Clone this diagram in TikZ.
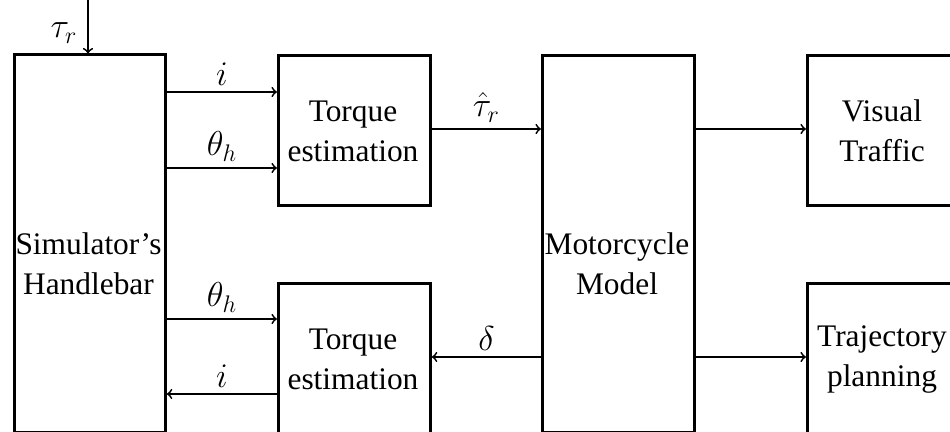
\documentclass[tikz,border=0pt]{standalone}
\usepackage{fontspec}
\setmainfont{Liberation Serif}
\usetikzlibrary{calc}
\begin{document}
\begin{tikzpicture}[x=0.5pt,y=-0.5pt,
  blk/.style={draw, line width=1.4pt, inner sep=0pt, anchor=north west},
  txt/.style={align=center, font=\fontsize{15.7}{20}\selectfont, inner sep=0pt},
  lab/.style={font=\fontsize{17.5}{20}\selectfont, inner sep=0pt},
  arr/.style={->, line width=0.9pt}]
\useasboundingbox (0,0) rectangle (950,432);
% boxes
\node[blk, minimum width=75.5pt, minimum height=189pt] (hb) at (13,53.5) {};
\node[blk, minimum width=76pt, minimum height=75pt] (te1) at (277,54) {};
\node[blk, minimum width=76pt, minimum height=75pt] (te2) at (277,282) {};
\node[blk, minimum width=76pt, minimum height=188.5pt] (mm) at (541,54) {};
\node[blk, minimum width=76pt, minimum height=75pt] (vt) at (806,54) {};
\node[blk, minimum width=76pt, minimum height=75pt] (tp) at (806,282) {};
% texts
\node[txt] (hbt) at (88.5,264) {Simulator's\\Handlebar};
\node[txt] (te1t) at (353,131) {Torque\\estimation};
\node[txt] (te2t) at (353,359) {Torque\\estimation};
\node[txt] (mmt) at (617,264) {Motorcycle\\Model};
\node[txt] (vtt) at (882,131) {Visual\\Traffic};
\node[txt] (tpt) at (882,359) {Trajectory\\planning};
% input torque
\coordinate (tin) at (88,0);
\draw[arr] (tin) -- (hb.north -| tin);
\node[lab] (taur) at (64,33) {$\tau_r$};
% arrows
\draw[arr] (hb.east |- 0,92) -- (te1.west |- 0,92) node[lab, midway, above=3pt] (l1) {$i$};
\draw[arr] (hb.east |- 0,168) -- (te1.west |- 0,168) node[lab, midway, above=3pt] (l2) {$\theta_h$};
\draw[arr] (hb.east |- 0,319) -- (te2.west |- 0,319) node[lab, midway, above=3pt] (l3) {$\theta_h$};
\draw[arr] (te2.west |- 0,394) -- (hb.east |- 0,394) node[lab, midway, above=3pt] (l4) {$i$};
\draw[arr] (te1.east |- 0,129) -- (mm.west |- 0,129) node[lab, midway, above=3pt] (l5) {$\hat{\tau}_r$};
\draw[arr] (mm.west |- 0,357) -- (te2.east |- 0,357) node[lab, midway, above=3pt] (l6) {$\delta$};
\draw[arr] (mm.east |- 0,129) -- (vt.west |- 0,129);
\draw[arr] (mm.east |- 0,357) -- (tp.west |- 0,357);
\end{tikzpicture}
\end{document}
